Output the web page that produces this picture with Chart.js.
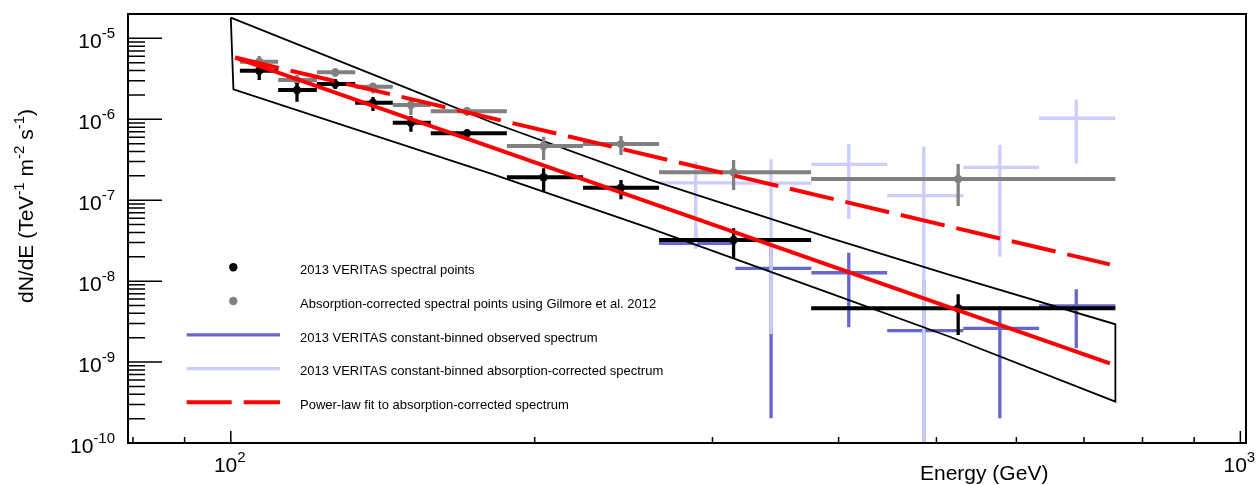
<!DOCTYPE html>
<html>
<head>
<meta charset="utf-8">
<title>VERITAS spectrum</title>
<script src="https://cdn.jsdelivr.net/npm/chart.js@4.4.0/dist/chart.umd.min.js"></script>
<style>
  html, body { margin: 0; padding: 0; background: #fff; }
  #wrap { width: 1260px; height: 485px; position: relative; }
</style>
</head>
<body>
<div id="wrap"><canvas id="spectrum"></canvas></div>
<script>
// axis ranges (GeV, TeV^-1 m^-2 s^-1)
const xRange = [79.1, 1013];
const yRange = [1e-10, 2.0e-5];
// tick labels: powers of ten
const xTickExp = [2, 3];
const yTickExp = [-10, -9, -8, -7, -6, -5];

// 2013 VERITAS spectral points (bins)
const ptE   = [106.7, 116.3, 126.9, 138.3, 150.8, 171.4, 204.1, 243.5, 314.8, 525.4];
const ptElo = [102.1, 111.4, 121.7, 132.8, 144.7, 157.8, 187.7, 223.3, 265.6, 375.7];
const ptEhi = [111.4, 121.7, 132.8, 144.7, 157.8, 187.7, 223.3, 265.6, 375.7, 752.0];
const obsFlux = [3.98e-6, 2.30e-6, 2.72e-6, 1.60e-6, 9.06e-7, 6.70e-7, 1.92e-7, 1.43e-7, 3.22e-8, 4.62e-9];
const obsLo   = [3.05e-6, 1.65e-6, 2.36e-6, 1.27e-6, 7.02e-7, 5.86e-7, 1.27e-7, 1.03e-7, 1.91e-8, 2.16e-9];
const obsHi   = [4.68e-6, 2.80e-6, 3.14e-6, 1.88e-6, 1.10e-6, 7.58e-7, 2.48e-7, 1.78e-7, 4.49e-8, 6.87e-9];
// absorption-corrected points (Gilmore et al. 2012)
const corFlux = [5.14e-6, 3.05e-6, 3.80e-6, 2.52e-6, 1.50e-6, 1.26e-6, 4.67e-7, 4.94e-7, 2.21e-7, 1.83e-7];
const corLo   = [4.42e-6, 2.19e-6, 3.35e-6, 2.09e-6, 1.13e-6, 1.10e-6, 3.14e-7, 3.61e-7, 1.34e-7, 8.47e-8];
const corHi   = [6.04e-6, 3.52e-6, 4.26e-6, 2.78e-6, 1.73e-6, 1.42e-6, 6.08e-7, 6.21e-7, 3.14e-7, 2.80e-7];

// constant-binned spectra
const cbE   = [288.7, 342.9, 409.4, 485.8, 577.8, 687.8];
const cbElo = [265.5, 316.1, 375.9, 446.9, 531.6, 631.9];
const cbEhi = [316.1, 375.9, 446.9, 531.6, 631.9, 752.0];
const cbObs   = [2.93e-8, 1.44e-8, 1.27e-8, 2.44e-9, 2.61e-9, 4.93e-9];
const cbObsLo = [2.55e-8, 2.02e-10, 2.69e-9, 1e-11, 2.02e-10, 1.48e-9];
const cbObsHi = [4.50e-8, 2.86e-8, 2.24e-8, 1.03e-8, 4.83e-9, 7.92e-9];
const cbCor   = [1.64e-7, 1.63e-7, 2.78e-7, 1.14e-7, 2.55e-7, 1.03e-6];
const cbCorLo = [2.54e-8, 2.22e-9, 5.86e-8, 1e-11, 2.00e-8, 2.85e-7];
const cbCorHi = [2.99e-7, 3.20e-7, 4.94e-7, 4.58e-7, 4.80e-7, 1.76e-6];

// butterfly (confidence band) edges
const bandUpE = [100, 154.0, 180.7, 260.3, 392.6, 516.2, 752];
const bandUpF = [1.80e-5, 2.09e-6, 9.32e-7, 1.78e-7, 3.41e-8, 1.19e-8, 2.93e-9];
const bandLoE = [100.6, 180.7, 260.3, 392.6, 516.2, 752];
const bandLoF = [2.34e-6, 2.15e-7, 4.49e-8, 7.07e-9, 2.04e-9, 3.24e-10];

// power-law fits
const fitE   = [101.0, 742.6];
const fitObs = [5.79e-6, 9.65e-10];
const fitCor = [5.79e-6, 1.61e-8];

const legendLabels = [
  '2013 VERITAS spectral points',
  'Absorption-corrected spectral points using Gilmore et al. 2012',
  '2013 VERITAS constant-binned observed spectrum',
  '2013 VERITAS constant-binned absorption-corrected spectrum',
  'Power-law fit to absorption-corrected spectrum'
];

const FONT = '"Liberation Sans", Arial, Helvetica, sans-serif';
const DARK_BLUE = '#6666cc';
const LIGHT_BLUE = '#ccccff';
const GREY = '#808080';
const RED = '#ff0000';

// horizontal bin bars, separated by gaps
function hBars(xlo, xhi, ys) {
  const pts = [];
  for (let i = 0; i < ys.length; i++) {
    pts.push({x: xlo[i], y: ys[i]}, {x: xhi[i], y: ys[i]}, {x: xhi[i], y: null});
  }
  return pts;
}
// vertical error bars
function vBars(xs, ylo, yhi) {
  const pts = [];
  for (let i = 0; i < xs.length; i++) {
    pts.push({x: xs[i], y: ylo[i]}, {x: xs[i], y: yhi[i]}, {x: xs[i], y: null});
  }
  return pts;
}
const pairs = (xs, ys) => xs.map((x, i) => ({x: x, y: ys[i]}));

const bandPoly = pairs(bandUpE, bandUpF)
  .concat(pairs(bandLoE, bandLoF).reverse())
  .concat([{x: bandUpE[0], y: bandUpF[0]}]);

function lineSet(data, color, width, order) {
  return {
    data: data, showLine: true, borderColor: color, borderWidth: width,
    pointRadius: 0, spanGaps: false, order: order, clip: 0
  };
}
function markerSet(data, color, order) {
  return { data: data, pointRadius: 4.2, pointBackgroundColor: color,
    pointBorderWidth: 0, showLine: false, order: order };
}

// draws "10" with a raised exponent; returns total width
function powerLabel(ctx, exp, x, y, size, measureOnly) {
  ctx.font = size + 'px ' + FONT;
  const w1 = ctx.measureText('10').width;
  ctx.font = Math.round(size * 0.7) + 'px ' + FONT;
  const w2 = ctx.measureText(String(exp)).width;
  if (!measureOnly) {
    ctx.font = size + 'px ' + FONT;
    ctx.fillText('10', x, y);
    ctx.font = Math.round(size * 0.7) + 'px ' + FONT;
    ctx.fillText(String(exp), x + w1, y - size * 0.47);
  }
  return w1 + w2;
}

function richText(ctx, parts, x, y, size) {
  let cx = x;
  parts.forEach(p => {
    const s = p[1] ? Math.round(size * 0.7) : size;
    ctx.font = s + 'px ' + FONT;
    ctx.fillText(p[0], cx, p[1] ? y - size * 0.45 : y);
    cx += ctx.measureText(p[0]).width;
  });
}

const rootAxes = {
  id: 'rootAxes',
  afterDraw(chart) {
    const {ctx, chartArea: a, scales: {x, y}} = chart;
    ctx.save();
    ctx.strokeStyle = '#000';
    ctx.fillStyle = '#000';

    // tick marks
    ctx.lineWidth = 1.5;
    ctx.beginPath();
    for (let e = -11; e <= -4; e++) {
      for (let k = 1; k <= 9; k++) {
        const v = k * Math.pow(10, e);
        if (v < yRange[0] * 0.999 || v > yRange[1] * 0.99) continue;
        const py = y.getPixelForValue(v);
        ctx.moveTo(a.left, py);
        ctx.lineTo(a.left + (k === 1 ? 34 : 17), py);
      }
    }
    for (let e = 1; e <= 3; e++) {
      for (let k = 1; k <= 9; k++) {
        const v = k * Math.pow(10, e);
        if (v < xRange[0] || v > xRange[1]) continue;
        const px = x.getPixelForValue(v);
        ctx.moveTo(px, a.bottom);
        ctx.lineTo(px, a.bottom - (k === 1 ? 12 : 6));
      }
    }
    ctx.stroke();

    // frame
    ctx.lineWidth = 2;
    ctx.strokeRect(a.left, a.top, a.right - a.left, a.bottom - a.top);

    // tick labels
    ctx.textAlign = 'left';
    ctx.textBaseline = 'alphabetic';
    yTickExp.forEach(e => {
      const py = y.getPixelForValue(Math.pow(10, e));
      const w = powerLabel(ctx, e, 0, 0, 21, true);
      powerLabel(ctx, e, a.left - 13 - w, py + 10, 21, false);
    });
    xTickExp.forEach(e => {
      const px = x.getPixelForValue(Math.pow(10, e));
      const w = powerLabel(ctx, e, 0, 0, 21, true);
      powerLabel(ctx, e, px - w / 2 - 1, a.bottom + 29, 21, false);
    });

    // axis titles
    ctx.font = '21px ' + FONT;
    ctx.fillText('Energy (GeV)', 920, 479.5);
    ctx.save();
    ctx.translate(33, 303);
    ctx.rotate(-Math.PI / 2);
    richText(ctx, [['dN/dE (TeV', 0], ['-1', 1], [' m', 0], ['-2', 1], [' s', 0], ['-1', 1], [')', 0]], 0, 0, 21);
    ctx.restore();

    // legend
    const rowY0 = 267.3, rowStep = 33.75;
    legendLabels.forEach((label, i) => {
      const ry = rowY0 + i * rowStep;
      if (i < 2) {
        ctx.fillStyle = i === 0 ? '#000' : GREY;
        ctx.beginPath();
        ctx.arc(233.3, ry, 4.2, 0, Math.PI * 2);
        ctx.fill();
      } else {
        ctx.strokeStyle = i === 2 ? DARK_BLUE : i === 3 ? LIGHT_BLUE : RED;
        ctx.lineWidth = i === 4 ? 4 : 3.3;
        ctx.setLineDash(i === 4 ? [45, 12] : []);
        ctx.beginPath();
        ctx.moveTo(186.7, ry);
        ctx.lineTo(280, ry);
        ctx.stroke();
        ctx.setLineDash([]);
      }
      ctx.fillStyle = '#000';
      ctx.font = '13px ' + FONT;
      ctx.fillText(label, 300, ry + 6.7);
    });
    ctx.restore();
  }
};

new Chart(document.getElementById('spectrum').getContext('2d'), {
  type: 'scatter',
  data: {
    datasets: [
      lineSet(hBars(cbElo, cbEhi, cbObs), DARK_BLUE, 3.3, 10),
      lineSet(vBars(cbE, cbObsLo, cbObsHi), DARK_BLUE, 3.3, 10),
      lineSet(hBars(cbElo, cbEhi, cbCor), LIGHT_BLUE, 3.3, 9),
      lineSet(vBars(cbE, cbCorLo, cbCorHi), LIGHT_BLUE, 3.3, 9),
      lineSet(bandPoly, '#000', 1.8, 8),
      lineSet(hBars(ptElo, ptEhi, corFlux), GREY, 4, 7),
      lineSet(vBars(ptE, corLo, corHi), GREY, 3.3, 6),
      markerSet(pairs(ptE, corFlux), GREY, 5),
      lineSet(hBars(ptElo, ptEhi, obsFlux), '#000', 4, 4),
      lineSet(vBars(ptE, obsLo, obsHi), '#000', 3.3, 3),
      markerSet(pairs(ptE, obsFlux), '#000', 2),
      Object.assign(lineSet(pairs(fitE, fitCor), RED, 4, 1), { borderDash: [45, 12] }),
      lineSet(pairs(fitE, fitObs), RED, 4, 0)
    ]
  },
  options: {
    responsive: true,
    maintainAspectRatio: false,
    animation: false,
    devicePixelRatio: 1,
    layout: { padding: { left: 128, right: 14, top: 14, bottom: 42 } },
    plugins: { legend: { display: false }, tooltip: { enabled: false } },
    scales: {
      x: { type: 'logarithmic', min: xRange[0], max: xRange[1], bounds: 'data', display: false },
      y: { type: 'logarithmic', min: yRange[0], max: yRange[1], bounds: 'data', display: false }
    }
  },
  plugins: [rootAxes]
});
</script>
</body>
</html>
